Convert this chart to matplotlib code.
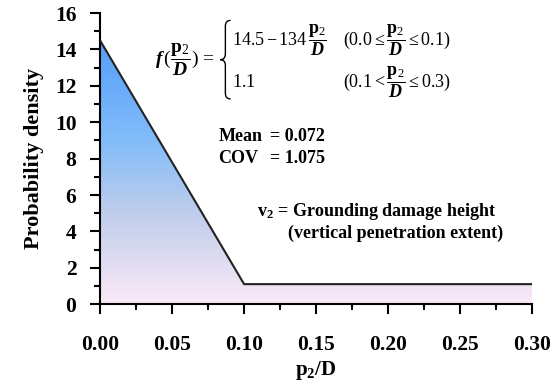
import matplotlib
matplotlib.use("Agg")
import matplotlib.pyplot as plt
import numpy as np
from matplotlib.colors import LinearSegmentedColormap
from matplotlib.path import Path
from matplotlib.patches import PathPatch
from matplotlib.ticker import MultipleLocator

plt.rcParams["font.family"] = ["Liberation Serif", "DejaVu Serif"]
plt.rcParams["mathtext.fontset"] = "custom"
plt.rcParams["mathtext.rm"] = "Liberation Serif"
plt.rcParams["mathtext.it"] = "Liberation Serif:italic"
plt.rcParams["mathtext.bf"] = "Liberation Serif:bold"
plt.rcParams["mathtext.bfit"] = "Liberation Serif:italic:bold"

# piecewise pdf of p2/D
x_pts = [0.0, 0.1, 0.3]
y_pts = [14.5, 1.1, 1.1]

x_ticks = [0.00, 0.05, 0.10, 0.15, 0.20, 0.25, 0.30]
y_ticks = [0, 2, 4, 6, 8, 10, 12, 14, 16]

fig = plt.figure(figsize=(5.59, 3.85), dpi=100)
ax = fig.add_axes([0.179, 0.21, 0.773, 0.756])
ax.set_xlim(0, 0.3)
ax.set_ylim(0, 16)

# gradient fill under the curve
cmap = LinearSegmentedColormap.from_list(
    "pdfgrad",
    [(0.0, (252/255, 233/255, 247/255)),
     (0.35, (190/255, 205/255, 235/255)),
     (0.62, (130/255, 188/255, 250/255)),
     (1.0, (85/255, 158/255, 250/255))])
grad = np.linspace(0, 1, 256).reshape(-1, 1)
im = ax.imshow(grad, cmap=cmap, origin="lower", aspect="auto",
               extent=[0, 0.3, 0, max(y_pts)], zorder=1)
verts = [(x_pts[0], 0)] + list(zip(x_pts, y_pts)) + [(x_pts[-1], 0), (x_pts[0], 0)]
clip = PathPatch(Path(verts), facecolor="none", edgecolor="none", transform=ax.transData)
ax.add_patch(clip)
im.set_clip_path(clip)
ax.plot(x_pts, y_pts, color="#222222", lw=1.5, zorder=3)

for s in ["top", "right"]:
    ax.spines[s].set_visible(False)
for s in ["left", "bottom"]:
    ax.spines[s].set_linewidth(1.5)

ax.set_xticks(x_ticks)
ax.set_xticklabels([f"{v:.2f}" for v in x_ticks])
ax.set_yticks(y_ticks)
ax.xaxis.set_minor_locator(MultipleLocator(0.025))
ax.yaxis.set_minor_locator(MultipleLocator(1))
ax.tick_params(which="major", direction="out", length=7, width=1.5, labelsize=15.5)
ax.tick_params(axis="x", which="major", pad=15)
ax.tick_params(axis="y", which="major", pad=10)
ax.tick_params(which="minor", direction="out", length=4, width=1.5)
for lab in ax.get_xticklabels() + ax.get_yticklabels():
    lab.set_fontweight("bold")

ax.set_xlabel(r"$\mathbf{p_2/D}$", fontsize=15, labelpad=3)
ax.set_ylabel("Probability density", fontsize=16, fontweight="bold", labelpad=8)

# equation
frac = r"\dfrac{\mathbf{p}_2}{\mathbfit{D}}"
fs_eq = 13
ax.text(0.038, 13.4, r"$\mathbfit{f}\,(" + frac + r")\,=$", fontsize=14, va="center", ha="left")
ax.text(0.0917, 14.5, r"$14.5-134\," + frac + r"$", fontsize=fs_eq, va="center", ha="left")
ax.text(0.169, 14.5, r"$(0.0\leq" + frac + r"\leq 0.1)$", fontsize=fs_eq, va="center", ha="left")
ax.text(0.0917, 12.2, r"$1.1$", fontsize=fs_eq, va="center", ha="left")
ax.text(0.169, 12.2, r"$(0.1<" + frac + r"\leq 0.3)$", fontsize=fs_eq, va="center", ha="left")

# brace drawn in axes fraction
bx, btop, bbot, bmid = 0.290, 0.975, 0.705, 0.84
dx = 0.012
bverts = [(bx + dx, btop), (bx, btop), (bx, btop - 0.02),
          (bx, bmid + 0.02),
          (bx, bmid), (bx - dx, bmid), (bx - dx, bmid),
          (bx, bmid), (bx, bmid - 0.02),
          (bx, bbot + 0.02),
          (bx, bbot), (bx + dx, bbot)]
bcodes = [Path.MOVETO, Path.CURVE3, Path.CURVE3,
          Path.LINETO,
          Path.CURVE3, Path.CURVE3, Path.MOVETO,
          Path.CURVE3, Path.CURVE3,
          Path.LINETO,
          Path.CURVE3, Path.CURVE3]
ax.add_patch(PathPatch(Path(bverts, bcodes), facecolor="none", edgecolor="black",
                       lw=1.0, transform=ax.transAxes, clip_on=False))

# statistics
fs_st = 13
ax.text(0.082, 9.2, "Mean", fontsize=fs_st, fontweight="bold", va="center")
ax.text(0.118, 9.2, "= 0.072", fontsize=fs_st, fontweight="bold", va="center")
ax.text(0.082, 8.0, "COV", fontsize=fs_st, fontweight="bold", va="center")
ax.text(0.118, 8.0, "= 1.075", fontsize=fs_st, fontweight="bold", va="center")

ax.text(0.109, 5.1, r"$\mathbf{v_2}$ = Grounding damage height", fontsize=13,
        fontweight="bold", va="center")
ax.text(0.1306, 3.9, "(vertical penetration extent)", fontsize=13,
        fontweight="bold", va="center")

fig.savefig("out.png", dpi=100)
